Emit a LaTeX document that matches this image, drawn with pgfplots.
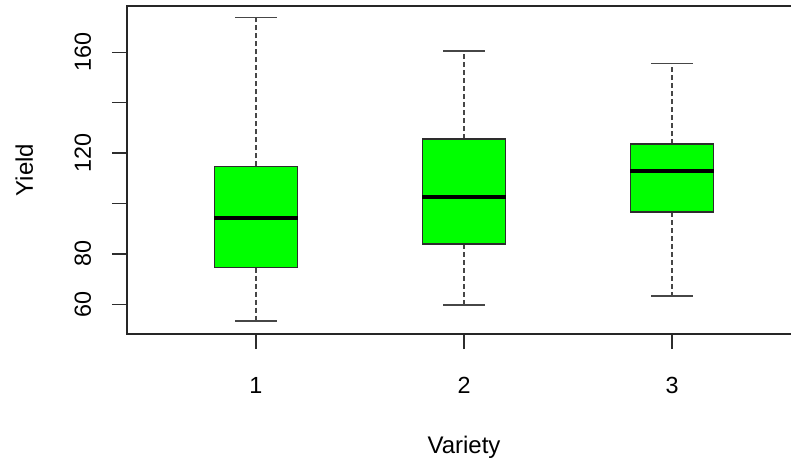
\documentclass[border=0pt]{standalone}
\usepackage{pgfplots}
\pgfplotsset{compat=1.18}
\usepackage{fontspec}
\setmainfont{Liberation Sans}
\definecolor{boxgreen}{RGB}{0,255,0}
\definecolor{axgray}{RGB}{45,45,45}
\definecolor{whgray}{RGB}{70,70,70}
\pgfplotsset{
  boxst/.style={draw=axgray, fill=boxgreen, line width=1pt, line join=miter},
  whisk/.style={draw=whgray, line width=1pt, dash pattern=on 3.75pt off 2.25pt},
  capst/.style={draw=whgray, line width=1.1pt},
  medst/.style={draw=black, line width=3pt},
}
\begin{document}
\begin{tikzpicture}
\begin{axis}[
  at={(0pt,0pt)}, anchor=south west,
  scale only axis,
  width=505.5pt, height=246pt,
  xmin=0.38, xmax=3.62,
  ymin=48.2, ymax=178.4,
  xtick={1,2,3},
  xticklabels={1,2,3},
  ytick={60,80,100,120,140,160},
  yticklabels={60,80,,120,,160},
  tick pos=left,
  tick align=outside,
  major tick length=11.25pt,
  tick style={axgray, line width=1pt},
  axis line style={black!85, line width=1pt},
  /pgf/number format/assume math mode=true,
  every tick label/.append style={font=\fontsize{17.5}{20}\selectfont},
  label style={font=\fontsize{18}{21}\selectfont},
  xticklabel style={anchor=base},
  xticklabel shift=33pt,
  yticklabel style={rotate=90, anchor=base},
  yticklabel shift=15.75pt,
  xlabel={Variety},
  ylabel={Yield},
  xlabel style={at={(axis description cs:0.5,-0.3628)}, anchor=base},
  ylabel style={at={(axis description cs:-0.1395,0.5)}, anchor=base},
]
% Variety 1: whiskers 53.4 / 173.8, quartiles 74.5 / 114.7, median 94.3
\addplot[whisk] coordinates {(1,114.7) (1,173.8)};
\addplot[whisk] coordinates {(1,74.5) (1,53.4)};
\addplot[capst] coordinates {(0.9,173.8) (1.1,173.8)};
\addplot[capst] coordinates {(0.9,53.4) (1.1,53.4)};
\addplot[boxst] coordinates {(0.8,74.5) (1.2,74.5) (1.2,114.7) (0.8,114.7)} -- cycle;
\addplot[medst] coordinates {(0.8,94.3) (1.2,94.3)};
% Variety 2: whiskers 59.7 / 160.5, quartiles 83.9 / 125.6, median 102.6
\addplot[whisk] coordinates {(2,125.6) (2,160.5)};
\addplot[whisk] coordinates {(2,83.9) (2,59.7)};
\addplot[capst] coordinates {(1.9,160.5) (2.1,160.5)};
\addplot[capst] coordinates {(1.9,59.7) (2.1,59.7)};
\addplot[boxst] coordinates {(1.8,83.9) (2.2,83.9) (2.2,125.6) (1.8,125.6)} -- cycle;
\addplot[medst] coordinates {(1.8,102.6) (2.2,102.6)};
% Variety 3: whiskers 63.2 / 155.6, quartiles 96.6 / 123.6, median 112.9
\addplot[whisk] coordinates {(3,123.6) (3,155.6)};
\addplot[whisk] coordinates {(3,96.6) (3,63.2)};
\addplot[capst] coordinates {(2.9,155.6) (3.1,155.6)};
\addplot[capst] coordinates {(2.9,63.2) (3.1,63.2)};
\addplot[boxst] coordinates {(2.8,96.6) (3.2,96.6) (3.2,123.6) (2.8,123.6)} -- cycle;
\addplot[medst] coordinates {(2.8,112.9) (3.2,112.9)};
\end{axis}
\pgfresetboundingbox
\path[use as bounding box] (-95.25pt,-94.5pt) rectangle (498pt,250.5pt);
\end{tikzpicture}
\end{document}
